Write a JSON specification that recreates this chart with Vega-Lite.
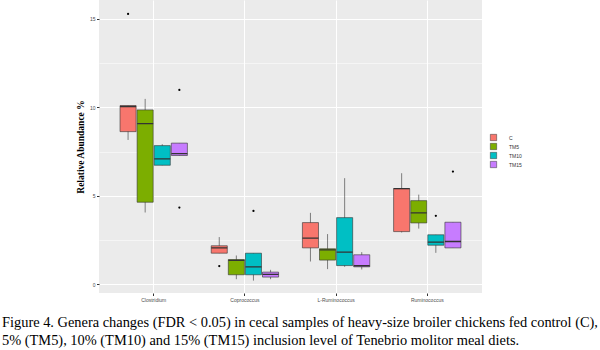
{
  "$schema": "https://vega.github.io/schema/vega-lite/v6.json",
  "width": 383,
  "height": 293,
  "autosize": {"type": "none"},
  "padding": {"left": 99, "top": 0, "right": 118, "bottom": 57},
  "background": "white",
  "title": {
    "text": ["Figure 4. Genera changes (FDR < 0.05) in cecal samples of heavy-size broiler chickens fed control (C),", "5% (TM5), 10% (TM10) and 15% (TM15) inclusion level of Tenebrio molitor meal diets."],
    "orient": "bottom",
    "anchor": "start",
    "frame": "group",
    "dx": -97,
    "offset": 14,
    "font": "Liberation Serif",
    "fontSize": 14.4,
    "fontWeight": "normal",
    "color": "black",
    "lineHeight": 18
  },
  "datasets": {
    "boxes": [
      {"genus": "Clostridium", "group": "C", "lower": 8.16, "q1": 8.63, "median": 10.05, "q3": 10.1, "upper": 10.1},
      {"genus": "Clostridium", "group": "TM5", "lower": 4.06, "q1": 4.64, "median": 9.08, "q3": 9.86, "upper": 10.48},
      {"genus": "Clostridium", "group": "TM10", "lower": 6.73, "q1": 6.73, "median": 7.09, "q3": 7.84, "upper": 7.92},
      {"genus": "Clostridium", "group": "TM15", "lower": 7.28, "q1": 7.28, "median": 7.39, "q3": 7.98, "upper": 7.98},
      {"genus": "Coprococcus", "group": "C", "lower": 1.76, "q1": 1.76, "median": 2.06, "q3": 2.18, "upper": 2.67},
      {"genus": "Coprococcus", "group": "TM5", "lower": 0.29, "q1": 0.54, "median": 1.35, "q3": 1.4, "upper": 1.63},
      {"genus": "Coprococcus", "group": "TM10", "lower": 0.21, "q1": 0.54, "median": 0.99, "q3": 1.76, "upper": 1.76},
      {"genus": "Coprococcus", "group": "TM15", "lower": 0.29, "q1": 0.41, "median": 0.56, "q3": 0.69, "upper": 0.82},
      {"genus": "L-Ruminococcus", "group": "C", "lower": 1.29, "q1": 2.06, "median": 2.61, "q3": 3.49, "upper": 4.04},
      {"genus": "L-Ruminococcus", "group": "TM5", "lower": 0.86, "q1": 1.37, "median": 1.95, "q3": 2.01, "upper": 2.84},
      {"genus": "L-Ruminococcus", "group": "TM10", "lower": 0.99, "q1": 1.06, "median": 1.82, "q3": 3.77, "upper": 6.0},
      {"genus": "L-Ruminococcus", "group": "TM15", "lower": 0.84, "q1": 0.99, "median": 1.05, "q3": 1.67, "upper": 1.82},
      {"genus": "Ruminococcus", "group": "C", "lower": 2.93, "q1": 2.98, "median": 5.41, "q3": 5.41, "upper": 6.28},
      {"genus": "Ruminococcus", "group": "TM5", "lower": 3.15, "q1": 3.47, "median": 4.04, "q3": 4.73, "upper": 5.07},
      {"genus": "Ruminococcus", "group": "TM10", "lower": 1.78, "q1": 2.21, "median": 2.38, "q3": 2.8, "upper": 2.8},
      {"genus": "Ruminococcus", "group": "TM15", "lower": 2.06, "q1": 2.06, "median": 2.42, "q3": 3.51, "upper": 3.51}
    ],
    "outliers": [
      {"genus": "Clostridium", "group": "C", "value": 15.28},
      {"genus": "Clostridium", "group": "TM15", "value": 10.99},
      {"genus": "Clostridium", "group": "TM15", "value": 4.34},
      {"genus": "Coprococcus", "group": "C", "value": 1.03},
      {"genus": "Coprococcus", "group": "TM10", "value": 4.15},
      {"genus": "Ruminococcus", "group": "TM10", "value": 3.87},
      {"genus": "Ruminococcus", "group": "TM15", "value": 6.37}
    ]
  },
  "encoding": {
    "x": {
      "field": "genus",
      "type": "nominal",
      "sort": ["Clostridium", "Coprococcus", "L-Ruminococcus", "Ruminococcus"],
      "scale": {"paddingInner": 0, "paddingOuter": 0.1},
      "axis": {
        "title": null,
        "labelAngle": 0,
        "bandPosition": 0.5,
        "grid": true,
        "gridColor": "white",
        "gridWidth": 1,
        "domain": false,
        "tickColor": "#333333",
        "tickSize": 2.5,
        "labelFontSize": 5,
        "labelFont": "Liberation Sans",
        "labelColor": "#4D4D4D",
        "labelPadding": 1.5
      }
    },
    "xOffset": {
      "field": "group",
      "type": "nominal",
      "sort": ["C", "TM5", "TM10", "TM15"],
      "scale": {"paddingInner": 0.06, "paddingOuter": 0.697}
    }
  },
  "layer": [
    {
      "data": {"name": "boxes"},
      "mark": {"type": "rule", "color": "#333333", "strokeWidth": 0.6},
      "encoding": {
        "y": {
          "field": "lower",
          "type": "quantitative",
          "scale": {"domain": [-0.49, 16.07], "nice": false, "zero": false},
          "axis": {
            "title": "Relative Abundance %",
            "titleFont": "Liberation Serif",
            "titleFontWeight": "bold",
            "titleFontSize": 9.5,
            "titleColor": "black",
            "titlePadding": 4,
            "values": [0, 2.5, 5, 7.5, 10, 12.5, 15],
            "labelExpr": "datum.value % 5 === 0 ? datum.label : ''",
            "grid": true,
            "gridColor": "white",
            "gridWidth": {"condition": {"test": "datum.value % 5 === 0", "value": 1}, "value": 0.5},
            "domain": false,
            "tickColor": "#333333",
            "tickOpacity": {"condition": {"test": "datum.value % 5 === 0", "value": 1}, "value": 0},
            "tickSize": 2.5,
            "labelFontSize": 5,
            "labelFont": "Liberation Sans",
            "labelColor": "#4D4D4D",
            "labelPadding": 1.5
          }
        },
        "y2": {"field": "upper"}
      }
    },
    {
      "data": {"name": "boxes"},
      "mark": {"type": "bar", "stroke": "#333333", "strokeWidth": 0.6},
      "encoding": {
        "y": {"field": "q1", "type": "quantitative"},
        "y2": {"field": "q3"},
        "fill": {
          "field": "group",
          "type": "nominal",
          "sort": ["C", "TM5", "TM10", "TM15"],
          "scale": {"domain": ["C", "TM5", "TM10", "TM15"], "range": ["#F8766D", "#7CAE00", "#00BFC4", "#C77CFF"]},
          "legend": {
            "title": null,
            "orient": "none",
            "legendX": 391,
            "legendY": 134,
            "symbolType": "square",
            "symbolSize": 40,
            "symbolStrokeColor": "#333333",
            "symbolStrokeWidth": 0.5,
            "symbolOpacity": 1,
            "labelFontSize": 5,
            "labelFont": "Liberation Sans",
            "labelColor": "#333333",
            "labelOffset": 12,
            "rowPadding": 0
          }
        }
      }
    },
    {
      "data": {"name": "boxes"},
      "mark": {"type": "bar", "fill": null, "stroke": "#333333", "strokeWidth": 1.3},
      "encoding": {
        "y": {"field": "median", "type": "quantitative"},
        "y2": {"field": "median"}
      }
    },
    {
      "data": {"name": "outliers"},
      "mark": {"type": "circle", "color": "black", "size": 5, "opacity": 1},
      "encoding": {
        "y": {"field": "value", "type": "quantitative"}
      }
    }
  ],
  "config": {
    "view": {"fill": "#EBEBEB", "stroke": null}
  }
}
